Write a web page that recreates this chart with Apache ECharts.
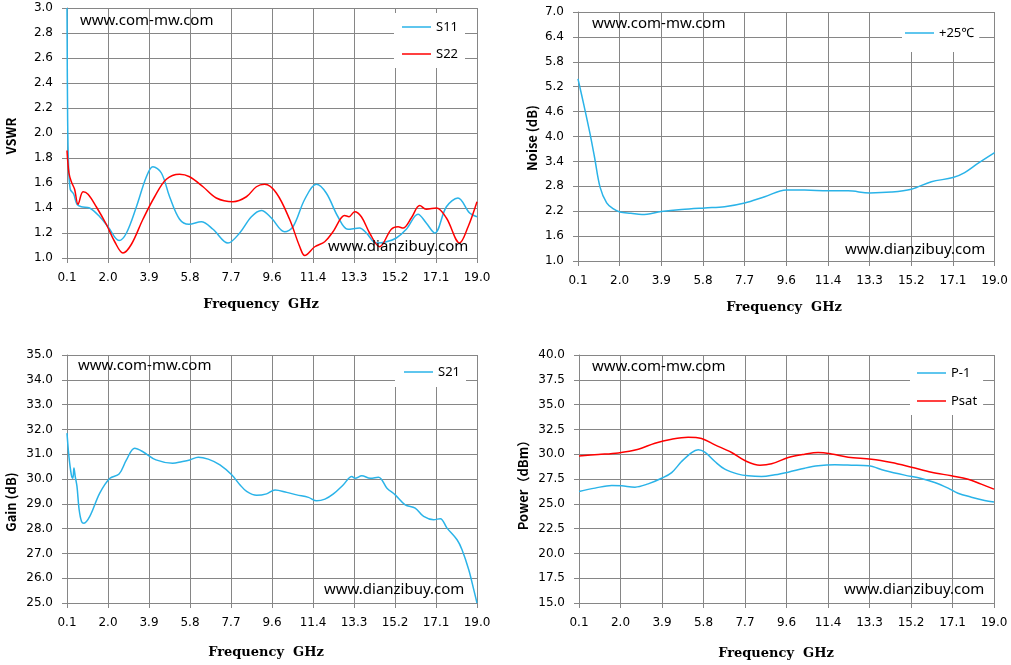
<!DOCTYPE html>
<html>
<head>
<meta charset="utf-8">
<script src="https://cdn.jsdelivr.net/npm/echarts@6/dist/echarts.min.js"></script>
<style>
  html, body { margin: 0; padding: 0; background: #fff; }
  #main { width: 1011px; height: 665px; }
</style>
</head>
<body>
<div id="main"></div>
<script>
// frequency axis ticks (GHz), shared by all four panels
var xTickValues = [0.1, 1.99, 3.88, 5.77, 7.66, 9.55, 11.44, 13.33, 15.22, 17.11, 19.0];
var xTickLabels = ['0.1', '2.0', '3.9', '5.8', '7.7', '9.6', '11.4', '13.3', '15.2', '17.1', '19.0'];
var noiseTickValues = [1.0, 1.6, 2.2, 2.8, 3.4, 4.0, 4.6, 5.2, 5.8, 6.4, 7.0];

// VSWR
var s11Freq = [0.1, 0.13, 0.17, 0.25, 0.41, 0.56, 0.76, 1.14, 1.61, 1.99, 2.5, 2.84, 3.3, 3.76, 4.06, 4.45, 4.83, 5.29, 5.72, 6.29, 6.83, 7.52, 8.06, 8.6, 9.06, 9.52, 10.13, 10.52, 11.06, 11.59, 12.05, 12.59, 13.05, 13.59, 13.9, 14.36, 14.82, 15.28, 15.74, 16.28, 16.66, 17.05, 17.59, 18.12, 18.66, 19.0];
var s11Val  = [3.0, 2.1, 1.75, 1.55, 1.51, 1.43, 1.41, 1.4, 1.33, 1.25, 1.14, 1.2, 1.41, 1.65, 1.73, 1.68, 1.49, 1.31, 1.27, 1.29, 1.23, 1.12, 1.2, 1.33, 1.38, 1.32, 1.21, 1.25, 1.47, 1.59, 1.52, 1.33, 1.23, 1.24, 1.2, 1.12, 1.13, 1.16, 1.23, 1.35, 1.28, 1.2, 1.41, 1.48, 1.36, 1.33];
var s22Freq = [0.1, 0.19, 0.3, 0.45, 0.61, 0.84, 1.07, 1.45, 1.91, 2.3, 2.68, 3.07, 3.6, 4.14, 4.68, 5.29, 5.75, 6.37, 6.98, 7.75, 8.37, 8.83, 9.21, 9.75, 10.36, 10.83, 11.06, 11.52, 11.98, 12.36, 12.9, 13.1, 13.36, 13.67, 14.05, 14.51, 15.05, 15.36, 15.59, 15.97, 16.36, 16.66, 17.13, 17.59, 18.2, 18.59, 19.0];
var s22Val  = [1.86, 1.68, 1.61, 1.55, 1.43, 1.53, 1.51, 1.41, 1.27, 1.13, 1.04, 1.11, 1.31, 1.49, 1.63, 1.67, 1.65, 1.57, 1.48, 1.45, 1.49, 1.57, 1.59, 1.52, 1.31, 1.09, 1.02, 1.09, 1.13, 1.21, 1.34, 1.33, 1.37, 1.33, 1.2, 1.09, 1.23, 1.25, 1.24, 1.32, 1.42, 1.39, 1.4, 1.32, 1.12, 1.25, 1.45];

// noise figure
var nfFreq = [0.1, 0.37, 0.64, 0.85, 1.1, 1.4, 1.69, 2.0, 2.5, 3.0, 3.88, 4.79, 5.85, 6.75, 7.66, 8.57, 9.55, 10.38, 11.44, 12.35, 13.33, 14.31, 15.22, 16.13, 17.11, 17.64, 18.24, 19.0];
var nfVal  = [5.39, 4.75, 4.08, 3.5, 2.78, 2.4, 2.26, 2.18, 2.15, 2.12, 2.19, 2.24, 2.28, 2.31, 2.4, 2.55, 2.71, 2.71, 2.69, 2.69, 2.64, 2.66, 2.73, 2.91, 3.01, 3.13, 3.35, 3.61];

// gain
var s21Freq = [0.1, 0.19, 0.3, 0.37, 0.42, 0.48, 0.56, 0.66, 0.77, 0.88, 1.15, 1.61, 2.08, 2.5, 2.84, 3.22, 3.6, 4.2, 4.97, 5.38, 5.76, 6.15, 6.61, 7.15, 7.69, 8.07, 8.38, 8.84, 9.3, 9.69, 10.23, 10.69, 11.23, 11.61, 11.99, 12.38, 12.84, 13.23, 13.38, 13.69, 14.08, 14.46, 14.85, 15.23, 15.69, 16.15, 16.54, 17.0, 17.31, 17.62, 18.08, 18.31, 18.62, 18.85, 19.0];
var s21Val  = [31.85, 30.9, 30.17, 30.03, 30.44, 30.1, 29.7, 28.76, 28.29, 28.22, 28.49, 29.43, 30.03, 30.2, 30.77, 31.24, 31.1, 30.77, 30.64, 30.7, 30.77, 30.88, 30.8, 30.57, 30.17, 29.77, 29.5, 29.34, 29.4, 29.56, 29.46, 29.36, 29.26, 29.12, 29.19, 29.4, 29.77, 30.1, 30.03, 30.13, 30.03, 30.07, 29.63, 29.36, 28.96, 28.83, 28.49, 28.36, 28.4, 28.02, 27.55, 27.15, 26.34, 25.54, 25.0];

// output power
var p1Freq = [0.1, 0.83, 1.59, 2.04, 2.65, 3.25, 3.86, 4.32, 4.77, 5.23, 5.53, 5.83, 6.29, 6.74, 7.35, 7.81, 8.41, 9.02, 9.63, 10.38, 10.99, 11.75, 12.51, 13.27, 14.02, 14.93, 15.69, 16.3, 16.91, 17.36, 17.97, 18.57, 19.0];
var p1Val  = [26.24, 26.58, 26.85, 26.81, 26.68, 27.01, 27.58, 28.15, 29.26, 30.17, 30.44, 30.2, 29.26, 28.49, 27.99, 27.82, 27.75, 27.92, 28.19, 28.59, 28.83, 28.93, 28.89, 28.83, 28.36, 27.89, 27.55, 27.15, 26.58, 26.07, 25.67, 25.34, 25.17];
var psatFreq = [0.1, 0.98, 1.89, 2.8, 3.56, 4.32, 5.07, 5.68, 6.29, 7.05, 7.65, 8.34, 8.87, 9.63, 10.38, 10.99, 11.6, 12.36, 13.42, 14.33, 15.24, 16.15, 17.06, 17.82, 18.42, 19.0];
var psatVal  = [29.83, 29.97, 30.13, 30.5, 31.11, 31.51, 31.71, 31.58, 30.94, 30.17, 29.36, 28.89, 29.03, 29.66, 30.0, 30.17, 30.03, 29.7, 29.5, 29.16, 28.69, 28.19, 27.82, 27.48, 26.98, 26.48];

var BLUE = '#2ab3e8';
var RED = '#ff0000';
var GRID_C = '#868686';

function pairs(fs, vs) {
    return fs.map(function (f, i) { return [f, vs[i]]; });
}

function xLabel(v) {
    for (var i = 0; i < xTickValues.length; i++) {
        if (Math.abs(xTickValues[i] - v) < 1e-6) return xTickLabels[i];
    }
    return '';
}

function xAxisOf(gi) {
    return {
        type: 'value', gridIndex: gi, min: 0.1, max: 19.0,
        axisLine: { lineStyle: { color: GRID_C } },
        axisTick: { customValues: xTickValues, length: 5, lineStyle: { color: GRID_C } },
        axisLabel: { customValues: xTickValues, formatter: xLabel, margin: 14,
                     fontFamily: 'DejaVu Sans', fontSize: 12, color: '#000' },
        splitLine: { show: true, lineStyle: { color: GRID_C, width: 1 } }
    };
}

function yAxisOf(gi, min, max, interval, custom) {
    var ax = {
        type: 'value', gridIndex: gi, min: min, max: max,
        axisLine: { show: true, lineStyle: { color: GRID_C } },
        axisTick: { show: true, length: 5, lineStyle: { color: GRID_C } },
        axisLabel: { formatter: function (v) { return v.toFixed(1); }, margin: 14,
                     fontFamily: 'DejaVu Sans', fontSize: 12, color: '#000' },
        splitLine: { show: true, lineStyle: { color: GRID_C, width: 1 } }
    };
    if (custom) {
        ax.axisTick.customValues = custom;
        ax.axisLabel.customValues = custom;
    } else {
        ax.interval = interval;
    }
    return ax;
}

function lineSeries(name, gi, data, color) {
    return {
        name: name, type: 'line', xAxisIndex: gi, yAxisIndex: gi,
        data: data, smooth: 0.35, showSymbol: false, symbol: 'none',
        lineStyle: { color: color, width: 1.5 }, itemStyle: { color: color }
    };
}

function legendOf(names, left, top, gap, pad) {
    return {
        data: names, orient: 'vertical', left: left, top: top,
        itemGap: gap, padding: pad, backgroundColor: '#fff',
        icon: 'rect', itemWidth: 29, itemHeight: 1.5,
        textStyle: { fontFamily: 'Noto Sans', fontSize: 13, color: '#000', lineHeight: 14 }
    };
}

function txt(s, x, y, opt) {
    opt = opt || {};
    return {
        type: 'text', x: x, y: y, rotation: opt.rot || 0, z: 100,
        style: {
            text: s, x: 0, y: 0,
            textAlign: opt.align || 'left', textVerticalAlign: 'middle',
            font: opt.font || '15px "Noto Sans"', fill: '#000'
        }
    };
}

var chart = echarts.init(document.getElementById('main'));
var titleFont = 'bold 13px "DejaVu Serif"';
var yTitleFont = 'bold 13px "Noto Sans CJK SC"';
var option = {
    animation: false,
    grid: [
        { left: 67, top: 8, width: 410, height: 250 },
        { left: 578, top: 12, width: 417, height: 249 },
        { left: 67, top: 355, width: 410, height: 248 },
        { left: 579, top: 355, width: 415, height: 248 }
    ],
    xAxis: [xAxisOf(0), xAxisOf(1), xAxisOf(2), xAxisOf(3)],
    yAxis: [
        yAxisOf(0, 1.0, 3.0, 0.2),
        yAxisOf(1, 1.0, 7.0, null, noiseTickValues),
        yAxisOf(2, 25, 35, 1),
        yAxisOf(3, 15, 40, 2.5)
    ],
    legend: [
        legendOf(['S11', 'S22'], 394, 13, 13, [7, 7, 7, 8]),
        legendOf(['+25℃'], 902, 13, 10, [13, 5, 12, 3]),
        legendOf(['S21'], 395, 356, 10, [9, 6, 8, 9]),
        legendOf(['P-1', 'Psat'], 910, 356, 14, [10, 6, 7, 7])
    ],
    series: [
        lineSeries('S11', 0, pairs(s11Freq, s11Val), BLUE),
        lineSeries('S22', 0, pairs(s22Freq, s22Val), RED),
        lineSeries('+25℃', 1, pairs(nfFreq, nfVal), BLUE),
        lineSeries('S21', 2, pairs(s21Freq, s21Val), BLUE),
        lineSeries('P-1', 3, pairs(p1Freq, p1Val), BLUE),
        lineSeries('Psat', 3, pairs(psatFreq, psatVal), RED)
    ],
    graphic: [
        txt('www.com-mw.com', 80, 21),
        txt('www.dianzibuy.com', 328, 247),
        txt('www.com-mw.com', 592, 24),
        txt('www.dianzibuy.com', 845, 250),
        txt('www.com-mw.com', 78, 366),
        txt('www.dianzibuy.com', 324, 590),
        txt('www.com-mw.com', 592, 367),
        txt('www.dianzibuy.com', 844, 590),
        txt('Frequency  GHz', 261, 305, { align: 'center', font: titleFont }),
        txt('Frequency  GHz', 784, 308, { align: 'center', font: titleFont }),
        txt('Frequency  GHz', 266, 653, { align: 'center', font: titleFont }),
        txt('Frequency  GHz', 776, 654, { align: 'center', font: titleFont }),
        txt('VSWR', 11, 136, { align: 'center', font: yTitleFont, rot: Math.PI / 2 }),
        txt('Noise (dB)', 532, 138, { align: 'center', font: yTitleFont, rot: Math.PI / 2 }),
        txt('Gain (dB)', 11, 502, { align: 'center', font: yTitleFont, rot: Math.PI / 2 }),
        txt('Power（dBm）', 523, 482, { align: 'center', font: yTitleFont, rot: Math.PI / 2 })
    ]
};
chart.setOption(option);
window.onresize = chart.resize;
</script>
</body>
</html>
